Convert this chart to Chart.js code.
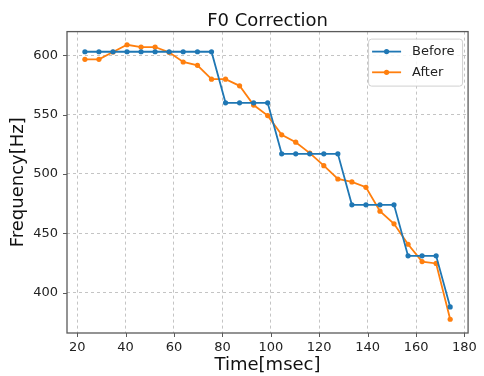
<!DOCTYPE html>
<html>
<head>
<meta charset="utf-8">
<script src="https://cdn.jsdelivr.net/npm/chart.js@4"></script>
<style>
  html, body { margin: 0; padding: 0; background: #fff; }
  #wrap { width: 484px; height: 376px; }
</style>
</head>
<body>
<div id="wrap"><canvas id="f0Chart" width="484" height="376"></canvas></div>
<script>
// frame times (msec)
const times = [23.2, 29.0, 34.8, 40.6, 46.4, 52.2, 58.0, 63.8, 69.7, 75.5,
  81.3, 87.1, 92.9, 98.7, 104.5, 110.3, 116.1, 121.9, 127.7, 133.5,
  139.3, 145.1, 150.9, 156.7, 162.5, 168.3, 174.1];
const beforeF0 = [603, 603, 603, 603, 603, 603, 603, 603, 603, 603,
  560, 560, 560, 560, 517, 517, 517, 517, 517, 474,
  474, 474, 474, 431, 431, 431, 388];
const afterF0 = [596.6, 596.6, 602.8, 608.9, 607, 607, 602.5, 594.4, 591.6, 579.9,
  579.9, 574.3, 558.1, 549.2, 533, 526.8, 517.6, 507, 495.8, 493.3,
  488.8, 468.7, 458, 440.8, 426.2, 424.6, 377.6];
const xTicks = [20, 40, 60, 80, 100, 120, 140, 160, 180];
const yTicks = [400, 450, 500, 550, 600];

const FONT = "'DejaVu Sans', sans-serif";
const BLUE = "#1f77b4";
const ORANGE = "#ff7f0e";
const SPINE = "#5a5a5a";

function toPoints(xs, ys) {
  return xs.map((x, i) => ({ x: x, y: ys[i] }));
}

// spines, outward ticks and the in-plot legend, matplotlib style
const framePlugin = {
  id: "frame",
  afterDatasetsDraw(chart) {
    const { ctx, chartArea: a, scales } = chart;
    ctx.save();
    ctx.strokeStyle = SPINE;
    ctx.lineWidth = 1.3;
    ctx.strokeRect(a.left, a.top, a.right - a.left, a.bottom - a.top);
    ctx.lineWidth = 1;
    ctx.beginPath();
    xTicks.forEach(v => {
      const px = Math.round(scales.x.getPixelForValue(v)) + 0.5;
      ctx.moveTo(px, a.bottom);
      ctx.lineTo(px, a.bottom + 4);
    });
    yTicks.forEach(v => {
      const py = Math.round(scales.y.getPixelForValue(v)) + 0.5;
      ctx.moveTo(a.left, py);
      ctx.lineTo(a.left - 4, py);
    });
    ctx.stroke();

    // legend box
    const bx = a.right - 100, by = a.top + 7, bw = 94, bh = 47;
    ctx.fillStyle = "rgba(255,255,255,0.85)";
    ctx.strokeStyle = "#d0d0d0";
    ctx.lineWidth = 1;
    ctx.beginPath();
    ctx.roundRect(bx + 0.5, by + 0.5, bw, bh, 3);
    ctx.fill();
    ctx.stroke();
    chart.data.datasets.forEach((ds, i) => {
      const cy = by + 13 + i * 20.7;
      ctx.strokeStyle = ds.borderColor;
      ctx.lineWidth = 1.8;
      ctx.beginPath();
      ctx.moveTo(bx + 4, cy);
      ctx.lineTo(bx + 33, cy);
      ctx.stroke();
      ctx.fillStyle = ds.borderColor;
      ctx.beginPath();
      ctx.arc(bx + 18.5, cy, 2.6, 0, Math.PI * 2);
      ctx.fill();
      ctx.fillStyle = "#222";
      ctx.font = "13px " + FONT;
      ctx.textBaseline = "middle";
      ctx.textAlign = "left";
      ctx.fillText(ds.label, bx + 44, cy);
    });
    ctx.restore();
  }
};

const ctx = document.getElementById("f0Chart").getContext("2d");
const config = {
  type: "line",
  data: {
    datasets: [
      {
        label: "Before",
        data: toPoints(times, beforeF0),
        borderColor: BLUE,
        backgroundColor: BLUE,
        borderWidth: 1.8,
        pointRadius: 2.6,
        pointBorderWidth: 0,
        fill: false,
        tension: 0,
      },
      {
        label: "After",
        data: toPoints(times, afterF0),
        borderColor: ORANGE,
        backgroundColor: ORANGE,
        borderWidth: 1.8,
        pointRadius: 2.6,
        pointBorderWidth: 0,
        fill: false,
        tension: 0,
      },
    ],
  },
  options: {
    responsive: false,
    animation: false,
    devicePixelRatio: 1,
    layout: { padding: { left: 0, right: 11, top: 0, bottom: 0 } },
    plugins: {
      legend: { display: false },
      tooltip: { enabled: false },
      title: {
        display: true,
        text: "F0 Correction",
        fullSize: false,
        color: "#111",
        font: { family: FONT, size: 18, weight: "normal" },
        padding: { top: 11, bottom: -1 },
      },
    },
    scales: {
      x: {
        type: "linear",
        min: 15.8,
        max: 181.5,
        afterBuildTicks: axis => { axis.ticks = xTicks.map(v => ({ value: v })); },
        afterFit: scale => { scale.height = 43; },
        grid: { color: "#c4c4c4", lineWidth: 1, drawTicks: false },
        border: { display: false, dash: [3, 3] },
        ticks: {
          padding: 7,
          maxRotation: 0,
          color: "#222",
          font: { family: FONT, size: 13 },
        },
        title: {
          display: true,
          text: "Time[msec]",
          color: "#111",
          font: { family: FONT, size: 18 },
          padding: { top: 0, bottom: 0 },
        },
      },
      y: {
        type: "linear",
        min: 366,
        max: 620,
        afterBuildTicks: axis => { axis.ticks = yTicks.map(v => ({ value: v })); },
        afterFit: scale => { scale.width = 67; },
        grid: { color: "#c4c4c4", lineWidth: 1, drawTicks: false },
        border: { display: false, dash: [3, 3] },
        ticks: {
          padding: 9,
          color: "#222",
          font: { family: FONT, size: 13 },
        },
        title: {
          display: true,
          text: "Frequency[Hz]",
          color: "#111",
          font: { family: FONT, size: 18 },
          padding: { top: 8, bottom: 0 },
        },
      },
    },
  },
  plugins: [framePlugin],
};

const f0Chart = new Chart(ctx, config);
</script>
</body>
</html>
